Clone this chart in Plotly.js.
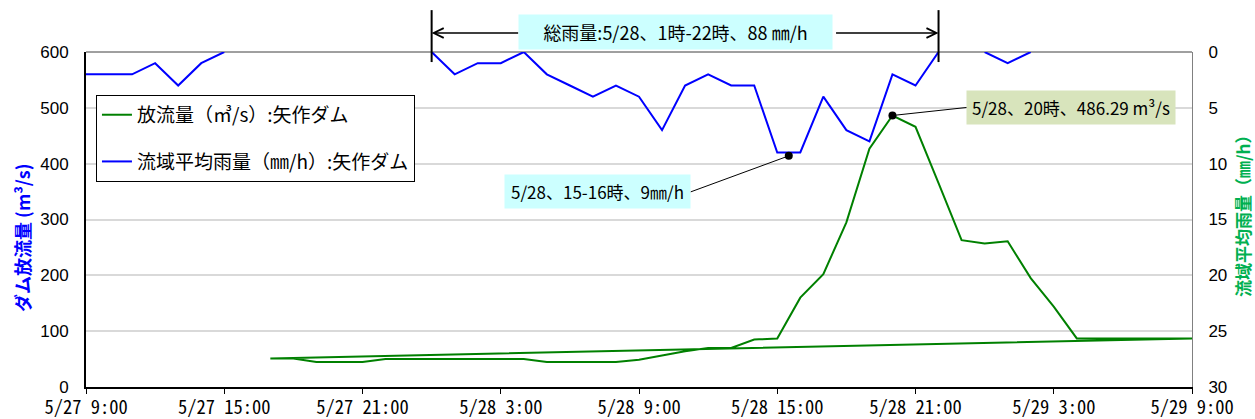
<!DOCTYPE html>
<html>
<head>
<meta charset="utf-8">
<script src="https://cdn.plot.ly/plotly-3.0.1.min.js"></script>
<style>html,body{margin:0;padding:0;background:#fff;}#chart{width:1255px;height:419px;}</style>
</head>
<body>
<div id="chart"></div>
<script>
// ---- data ----
// Discharge (m3/s), hourly from 5/27 17:00 to 5/29 9:00, final point returns to start (as in source sheet)
const dischargeTimes = [
  '2021-05-27 17:00','2021-05-27 18:00','2021-05-27 19:00','2021-05-27 20:00','2021-05-27 21:00',
  '2021-05-27 22:00','2021-05-27 23:00','2021-05-28 00:00','2021-05-28 01:00','2021-05-28 02:00',
  '2021-05-28 03:00','2021-05-28 04:00','2021-05-28 05:00','2021-05-28 06:00','2021-05-28 07:00',
  '2021-05-28 08:00','2021-05-28 09:00','2021-05-28 10:00','2021-05-28 11:00','2021-05-28 12:00',
  '2021-05-28 13:00','2021-05-28 14:00','2021-05-28 15:00','2021-05-28 16:00','2021-05-28 17:00',
  '2021-05-28 18:00','2021-05-28 19:00','2021-05-28 20:00','2021-05-28 21:00','2021-05-28 22:00',
  '2021-05-28 23:00','2021-05-29 00:00','2021-05-29 01:00','2021-05-29 02:00','2021-05-29 03:00',
  '2021-05-29 04:00','2021-05-29 05:00','2021-05-29 06:00','2021-05-29 07:00','2021-05-29 08:00',
  '2021-05-29 09:00','2021-05-27 17:00'
];
const dischargeValues = [
  51, 51, 45, 45, 45,
  50, 50, 50, 50, 50,
  50, 50, 45, 45, 45,
  45, 49, 57, 64, 70,
  70, 85, 87, 160, 202,
  295, 427, 486.29, 466, 365,
  263, 257, 261, 195, 144,
  87, 87, 87, 87, 87,
  87, 51
];
// Basin average rainfall (mm/h)
const rainTimes = [
  '2021-05-27 09:00','2021-05-27 10:00','2021-05-27 11:00','2021-05-27 12:00','2021-05-27 13:00',
  '2021-05-27 14:00','2021-05-27 15:00','2021-05-27 16:00',
  '2021-05-27 23:00',
  '2021-05-28 00:00','2021-05-28 01:00','2021-05-28 02:00','2021-05-28 03:00','2021-05-28 04:00',
  '2021-05-28 05:00','2021-05-28 06:00','2021-05-28 07:00','2021-05-28 08:00','2021-05-28 09:00',
  '2021-05-28 10:00','2021-05-28 11:00','2021-05-28 12:00','2021-05-28 13:00','2021-05-28 14:00',
  '2021-05-28 15:00','2021-05-28 16:00','2021-05-28 17:00','2021-05-28 18:00','2021-05-28 19:00',
  '2021-05-28 20:00','2021-05-28 21:00','2021-05-28 22:00','2021-05-28 23:00',
  '2021-05-29 00:00','2021-05-29 01:00','2021-05-29 02:00','2021-05-29 03:00'
];
const rainValues = [
  2, 2, 2, 1, 3,
  1, 0, null,
  null,
  0, 2, 1, 1, 0,
  2, 3, 4, 3, 4,
  7, 3, 2, 3, 3,
  9, 9, 4, 7, 8,
  2, 3, 0, null,
  0, 1, 0, null
];
const tickVals = ['2021-05-27 09:00','2021-05-27 15:00','2021-05-27 21:00','2021-05-28 03:00',
  '2021-05-28 09:00','2021-05-28 15:00','2021-05-28 21:00','2021-05-29 03:00','2021-05-29 09:00'];
const tickText = ['5/27 9:00','5/27 15:00','5/27 21:00','5/28 3:00',
  '5/28 9:00','5/28 15:00','5/28 21:00','5/29 3:00','5/29 9:00'];
const totalRainStart = '2021-05-28 00:00';
const totalRainEnd = '2021-05-28 22:00';
const rainPeakTime = '2021-05-28 15:30';
const rainPeakValue = 9.3;
const xRange = ['2021-05-27 09:00','2021-05-29 09:00'];

// ---- chart ----
const JP = '"Noto Sans CJK JP", "Noto Sans", sans-serif';
const peakIdx = dischargeValues.indexOf(Math.max(...dischargeValues));

const traces = [
  {x: dischargeTimes, y: dischargeValues, type: 'scatter', mode: 'lines',
   name: '放流量（㎥/s）:矢作ダム', legendgroup: 'a',
   line: {color: '#008000', width: 2}, yaxis: 'y'},
  {x: rainTimes, y: rainValues, type: 'scatter', mode: 'lines',
   name: '流域平均雨量（㎜/h）:矢作ダム', legendgroup: 'b', connectgaps: false,
   line: {color: '#0000ff', width: 2}, yaxis: 'y2'}
];

const layout = {
  width: 1255, height: 419,
  margin: {l: 86, r: 63, t: 52, b: 32},
  paper_bgcolor: '#ffffff', plot_bgcolor: '#ffffff',
  font: {family: '"Liberation Sans", Arial, sans-serif', size: 17, color: '#000'},
  showlegend: true,
  legend: {x: 0.009, y: 0.872, xanchor: 'left', yanchor: 'top',
    bgcolor: '#ffffff', bordercolor: '#000', borderwidth: 1,
    font: {family: JP, size: 19, color: '#000'}, tracegroupgap: 19,
    itemwidth: 30},
  xaxis: {type: 'date', range: xRange, tickvals: tickVals, ticktext: tickText,
    showgrid: false, zeroline: false, showline: true, linecolor: '#000', linewidth: 2,
    ticks: 'outside', ticklen: 5, tickcolor: '#000', tickwidth: 1, ticklabelstandoff: -2,
    tickfont: {family: '"Noto Sans Mono CJK JP", "Liberation Mono", monospace', size: 18.5}},
  yaxis: {range: [0, 600], dtick: 100, showgrid: true, gridcolor: '#d9d9d9', gridwidth: 2,
    zeroline: false, showline: true, linecolor: '#000', linewidth: 2,
    ticks: '', ticklabelstandoff: 12, tickfont: {size: 17}},
  yaxis2: {range: [30, 0], dtick: 5, overlaying: 'y', side: 'right', showgrid: false,
    zeroline: false, showline: true, linecolor: '#808080', linewidth: 1,
    ticks: '', ticklabelstandoff: 12, tickfont: {size: 17}},
  shapes: [
    {type: 'line', xref: 'paper', yref: 'paper', x0: 0, x1: 1, y0: 1, y1: 1,
     line: {color: '#404040', width: 1}, layer: 'below'},
    {type: 'line', xref: 'x', yref: 'paper', x0: totalRainStart, x1: totalRainStart, y0: 0.97, y1: 1.125,
     line: {color: '#000', width: 2}},
    {type: 'line', xref: 'x', yref: 'paper', x0: totalRainEnd, x1: totalRainEnd, y0: 0.97, y1: 1.125,
     line: {color: '#000', width: 2}}
  ],
  annotations: [
    {text: '総雨量:5/28、1時-22時、88 ㎜/h', xref: 'paper', yref: 'paper',
     x: (675 - 86) / 1106, y: (387 - 32) / 335, xanchor: 'center', yanchor: 'middle',
     showarrow: false, bgcolor: '#ccffff', width: 309, height: 30, borderpad: 2,
     font: {family: JP, size: 18, color: '#000'}},
    {text: '', xref: 'x', yref: 'paper', x: totalRainStart, y: (387 - 33) / 335,
     showarrow: true, ax: 88, ay: 0, arrowhead: 5, arrowsize: 1.3, arrowwidth: 1.5, arrowcolor: '#000'},
    {text: '', xref: 'x', yref: 'paper', x: totalRainEnd, y: (387 - 33) / 335,
     showarrow: true, ax: -104, ay: 0, arrowhead: 5, arrowsize: 1.3, arrowwidth: 1.5, arrowcolor: '#000'},
    {text: '5/28、15-16時、9㎜/h', xref: 'x', yref: 'y2', x: rainPeakTime, y: rainPeakValue,
     showarrow: true, ax: -98, ay: 36, xanchor: 'right', yanchor: 'middle',
     arrowhead: 6, arrowsize: 2, arrowwidth: 1, arrowcolor: '#000',
     bgcolor: '#ccffff', width: 181, height: 29, borderpad: 2,
     font: {family: JP, size: 17, color: '#000'}},
    {text: '5/28、20時、486.29 m³/s', xref: 'x', yref: 'y', x: dischargeTimes[peakIdx], y: dischargeValues[peakIdx],
     showarrow: true, ax: 74, ay: -8, xanchor: 'left', yanchor: 'middle',
     arrowhead: 6, arrowsize: 2, arrowwidth: 1, arrowcolor: '#000',
     bgcolor: '#d8e4bc', width: 204, height: 29, borderpad: 2,
     font: {family: JP, size: 17, color: '#000'}},
    {text: '<b>ダム放流量 (m³/s)</b>', xref: 'paper', yref: 'paper', x: (22 - 86) / 1106, y: (387 - 238) / 335,
     xanchor: 'center', yanchor: 'middle', textangle: -90, showarrow: false,
     font: {family: JP, size: 18, color: '#0000ff'}},
    {text: '<b>流域平均雨量（㎜/h）</b>', xref: 'paper', yref: 'paper', x: (1242 - 86) / 1106, y: (387 - 212) / 335,
     xanchor: 'center', yanchor: 'middle', textangle: -90, showarrow: false,
     font: {family: JP, size: 17, color: '#00b050'}}
  ]
};

Plotly.newPlot('chart', traces, layout, {displayModeBar: false, staticPlot: true});
</script>
</body>
</html>
